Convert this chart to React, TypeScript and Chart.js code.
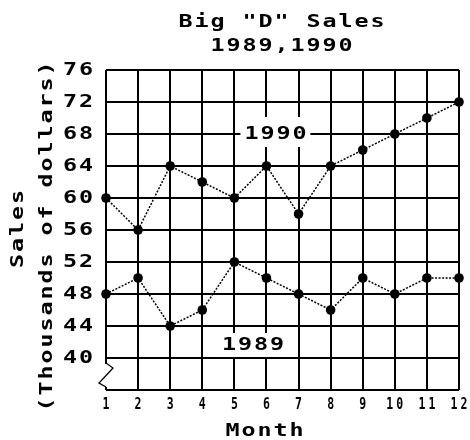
import React, { useEffect, useRef } from "react";
import { Chart, registerables } from "chart.js";

Chart.register(...registerables);

// ---- data ----
const months = [1, 2, 3, 4, 5, 6, 7, 8, 9, 10, 11, 12];
const sales1990 = [60, 56, 64, 62, 60, 64, 58, 64, 66, 68, 70, 72];
const sales1989 = [48, 50, 44, 46, 52, 50, 48, 46, 50, 48, 50, 50];
const yTickValues = [76, 72, 68, 64, 60, 56, 52, 48, 44, 40];
const xTickLabels = ["1", "2", "3", "4", "5", "6", "7", "8", "9", "10", "11", "12"];
const titleLines = ['Big "D" Sales', "1989,1990"];
const yTitleLines = ["Sales", "(Thousands of dollars)"];
const xTitle = "Month";
const seriesNames = ["1990", "1989"];
const yMin = 36;
const yMax = 76;

// ---- styles / layout ----
const FONT = '"DejaVu Sans Mono", "Liberation Mono", monospace';
const BIG = { size: 18, sx: 1.3, advance: 16 };
const SMALL = { size: 16, sx: 0.72, advance: 10 };

type TextOpt = { size: number; sx: number; advance: number; align?: string; rotation?: number };

function drawText(ctx: CanvasRenderingContext2D, text: string, x: number, y: number, opt: TextOpt) {
  const { size, sx, advance, align = "center", rotation = 0 } = opt;
  ctx.save();
  ctx.translate(x, y);
  if (rotation) ctx.rotate(rotation);
  ctx.scale(sx, 1);
  ctx.font = `bold ${size}px ${FONT}`;
  (ctx as any).letterSpacing = "0px";
  const a0 = ctx.measureText("0").width;
  const spacing = advance / sx - a0;
  (ctx as any).letterSpacing = `${spacing}px`;
  ctx.textBaseline = "middle";
  ctx.textAlign = "left";
  ctx.fillStyle = "#000";
  const visible = text.length * advance - spacing * sx;
  let start = 0;
  if (align === "center") start = -visible / 2;
  else if (align === "right") start = -visible;
  ctx.fillText(text, start / sx, 0);
  ctx.restore();
}

// label anchors (data units) and their white boxes
const labelAnchors = [
  { x: 6.28, y: 68, left: 35, right: 35, top: 17, bottom: 13 },
  { x: 5.58, y: 41.56, left: 35, right: 37, top: 12.5, bottom: 11.5 },
];

const decorPlugin = {
  id: "decor",
  beforeDatasetsDraw(chart: any) {
    const ctx: CanvasRenderingContext2D = chart.ctx;
    const xs = chart.scales.x;
    const ys = chart.scales.y;
    ctx.save();
    ctx.fillStyle = "#fff";
    labelAnchors.forEach((a) => {
      const cx = xs.getPixelForValue(a.x);
      const cy = ys.getPixelForValue(a.y);
      ctx.fillRect(cx - a.left, cy - a.top, a.left + a.right, a.top + a.bottom);
    });
    // axis break
    const left = chart.chartArea.left;
    const bottom = chart.chartArea.bottom;
    ctx.fillRect(left - 3, bottom - 26, 6, 23);
    ctx.strokeStyle = "#000";
    ctx.lineWidth = 1.3;
    ctx.beginPath();
    ctx.moveTo(left, bottom - 27);
    ctx.lineTo(left + 7, bottom - 22);
    ctx.lineTo(left - 7, bottom - 7);
    ctx.lineTo(left, bottom - 3);
    ctx.stroke();
    ctx.restore();
  },
  afterDraw(chart: any) {
    const ctx: CanvasRenderingContext2D = chart.ctx;
    const xs = chart.scales.x;
    const ys = chart.scales.y;
    const area = chart.chartArea;
    const midX = (area.left + area.right) / 2;
    // title
    drawText(ctx, titleLines[0], midX - 1, 22, BIG);
    drawText(ctx, titleLines[1], midX - 1, 46.5, BIG);
    // y ticks
    yTickValues.forEach((v) => {
      drawText(ctx, String(v), 93, ys.getPixelForValue(v), { ...BIG, align: "right" });
    });
    // x ticks
    xTickLabels.forEach((t, i) => {
      drawText(ctx, t, xs.getPixelForValue(months[i]), 405, SMALL);
    });
    // axis titles
    drawText(ctx, xTitle, 264.5, 431.5, BIG);
    drawText(ctx, yTitleLines[0], 18.5, 229, { ...BIG, rotation: -Math.PI / 2 });
    drawText(ctx, yTitleLines[1], 47, 236.5, { ...BIG, rotation: -Math.PI / 2 });
    // series labels
    seriesNames.forEach((name, i) => {
      const a = labelAnchors[i];
      drawText(ctx, name, xs.getPixelForValue(a.x), ys.getPixelForValue(a.y), BIG);
    });
  },
};

export default function App() {
  const ref = useRef<HTMLCanvasElement | null>(null);

  useEffect(() => {
    if (!ref.current) return;
    const lineStyle = {
      borderColor: "#000",
      backgroundColor: "#000",
      borderWidth: 1.5,
      borderDash: [2, 1.5],
      pointRadius: 4.8,
      pointBackgroundColor: "#000",
      pointBorderWidth: 0,
      tension: 0,
      clip: false as any,
    };
    const chart = new Chart(ref.current, {
      type: "line",
      data: {
        datasets: [
          { label: seriesNames[0], data: months.map((m, i) => ({ x: m, y: sales1990[i] })), ...lineStyle },
          { label: seriesNames[1], data: months.map((m, i) => ({ x: m, y: sales1989[i] })), ...lineStyle },
        ],
      },
      options: {
        responsive: false,
        animation: false,
        events: [],
        layout: { padding: { top: 70, right: 11, bottom: 0, left: 0 } },
        plugins: {
          legend: { display: false },
          title: { display: false },
          tooltip: { enabled: false },
        },
        scales: {
          x: {
            type: "linear",
            min: months[0],
            max: months[months.length - 1],
            ticks: { stepSize: 1, display: false },
            grid: { color: "#000", lineWidth: 2, drawTicks: false },
            border: { display: false },
            afterFit: (s: any) => {
              s.height = 50;
            },
          },
          y: {
            type: "linear",
            min: yMin,
            max: yMax,
            ticks: { stepSize: 4, display: false },
            grid: { color: "#000", lineWidth: 2, drawTicks: false },
            border: { display: false },
            afterFit: (s: any) => {
              s.width = 106;
            },
          },
        },
      } as any,
      plugins: [decorPlugin],
    });
    return () => chart.destroy();
  }, []);

  return (
    <div style={{ position: "fixed", left: 0, top: 0, width: 470, height: 440, background: "#fff" }}>
      <canvas ref={ref} width={470} height={440} />
    </div>
  );
}
